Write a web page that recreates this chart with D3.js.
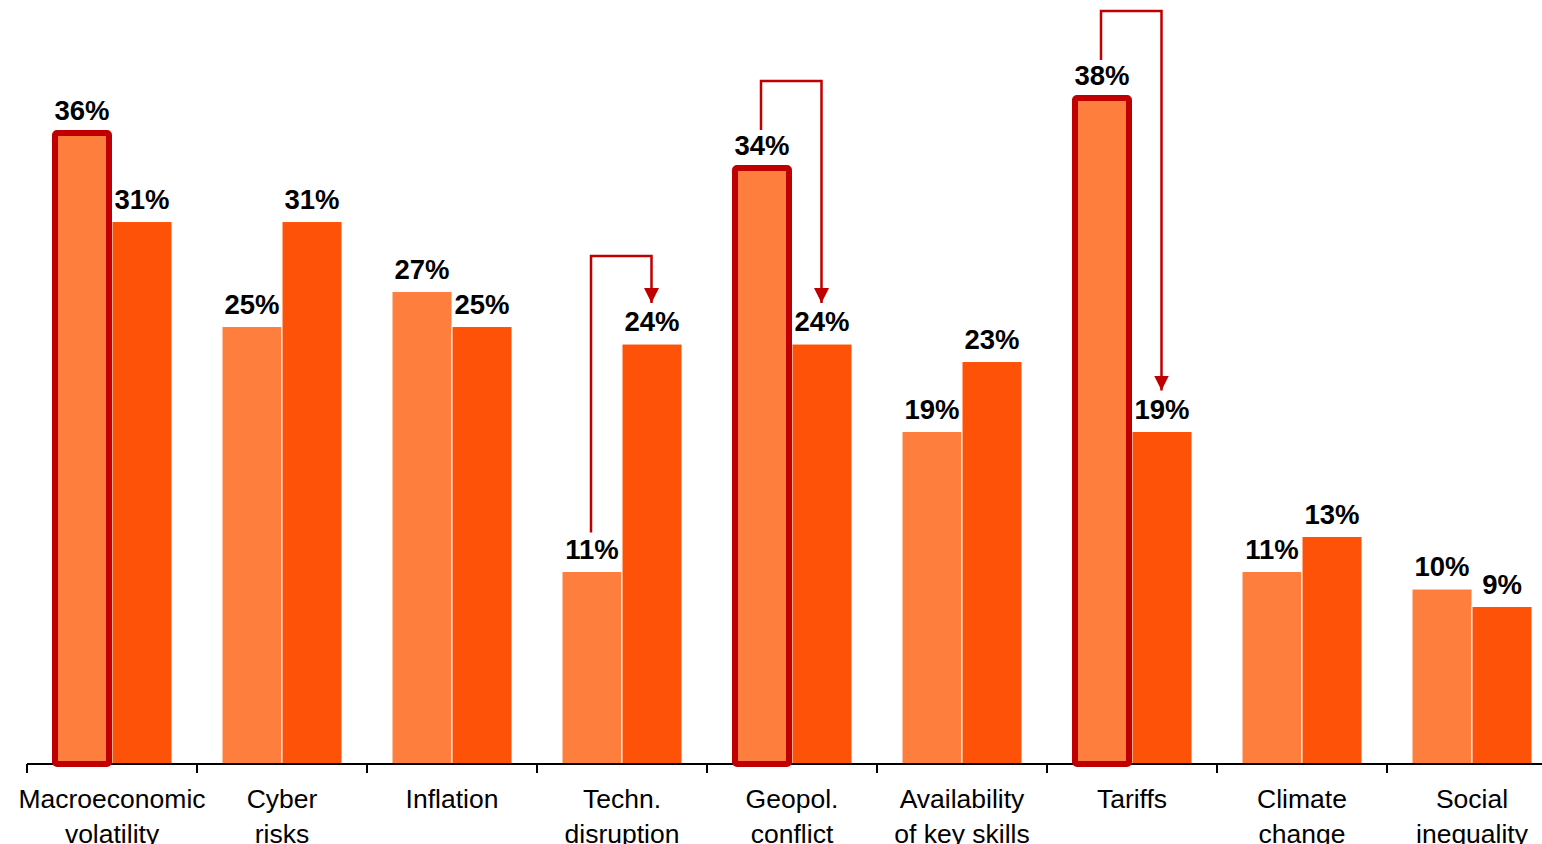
<!DOCTYPE html>
<html>
<head>
<meta charset="utf-8">
<script src="https://cdn.jsdelivr.net/npm/d3@7"></script>
<style>
  html, body { margin: 0; padding: 0; background: #fff; overflow: hidden; }
  svg { display: block; font-family: "Liberation Sans", Arial, sans-serif; }
</style>
</head>
<body>
<svg id="chart" width="1542" height="844"></svg>
<script>
// ---- data ----
const categories = ["Macroeconomic volatility", "Cyber risks", "Inflation", "Techn. disruption",
  "Geopol. conflict", "Availability of key skills", "Tariffs", "Climate change", "Social inequality"];
const categoryLines = [["Macroeconomic", "volatility"], ["Cyber", "risks"], ["Inflation"],
  ["Techn.", "disruption"], ["Geopol.", "conflict"], ["Availability", "of key skills"],
  ["Tariffs"], ["Climate", "change"], ["Social", "inequality"]];
const seriesA = [36, 25, 27, 11, 34, 19, 38, 11, 10];
const seriesB = [31, 31, 25, 24, 24, 23, 19, 13, 9];
const highlighted = ["Macroeconomic volatility", "Geopol. conflict", "Tariffs"];
const arrowed = ["Techn. disruption", "Geopol. conflict", "Tariffs"];

// ---- styles ----
const colorA = "#FD7E3D";
const colorB = "#FE5209";
const accent = "#C00000";

const svg = d3.select("#chart");
const baseline = 764;
const left = 27, bandW = 170;

const x = d3.scaleBand().domain(categories).range([left, left + bandW * categories.length]).padding(0);
const y = d3.scaleLinear().domain([0, 43.66]).range([baseline, 0]);
const sub = d3.scaleBand().domain(["A", "B"]).range([25, 145]).padding(0);

const rows = categories.map((c, i) => ({ c, i, a: seriesA[i], b: seriesB[i] }));

// arrowhead marker
svg.append("defs").append("marker")
  .attr("id", "ah").attr("viewBox", "0 0 15 15")
  .attr("refX", 7.5).attr("refY", 15)
  .attr("markerWidth", 15).attr("markerHeight", 15)
  .attr("markerUnits", "userSpaceOnUse").attr("orient", "0")
  .append("path").attr("d", "M0,0 L15,0 L7.5,15 Z").attr("fill", accent);

const g = svg.append("g");

// bars
const bars = [];
rows.forEach(r => {
  bars.push({ c: r.c, k: "A", v: r.a });
  bars.push({ c: r.c, k: "B", v: r.b });
});

g.selectAll("rect.bar").data(bars).join("rect")
  .attr("class", "bar")
  .attr("x", d => x(d.c) + sub(d.k))
  .attr("width", sub.bandwidth())
  .attr("y", d => y(d.v))
  .attr("height", d => baseline - y(d.v))
  .attr("fill", d => d.k === "A" ? colorA : colorB)
  .attr("stroke", "#fff").attr("stroke-width", 1);

// value labels
g.selectAll("text.val").data(bars).join("text")
  .attr("class", "val")
  .attr("x", d => x(d.c) + sub(d.k) + sub.bandwidth() / 2)
  .attr("y", d => y(d.v) - 13 - (d.k === "A" && highlighted.includes(d.c) ? 1 : 0))
  .attr("text-anchor", "middle")
  .attr("font-size", 27.5).attr("font-weight", "bold").attr("fill", "#000")
  .text(d => d.v + "%");

// axis
const axisG = svg.append("g").attr("transform", `translate(0,${baseline})`);
axisG.append("line").attr("x1", left).attr("x2", 1542).attr("y1", 0).attr("y2", 0)
  .attr("stroke", "#000").attr("stroke-width", 2);
axisG.selectAll("line.tick").data(categories).join("line")
  .attr("class", "tick")
  .attr("x1", d => x(d)).attr("x2", d => x(d))
  .attr("y1", 0).attr("y2", 9)
  .attr("stroke", "#000").attr("stroke-width", 2);

// category labels
const lab = axisG.selectAll("text.cat").data(rows).join("text")
  .attr("class", "cat")
  .attr("text-anchor", "middle")
  .attr("font-size", 26.5).attr("fill", "#000")
  .attr("transform", d => `translate(${x(d.c) + bandW / 2},44)`);
lab.selectAll("tspan").data(d => categoryLines[d.i]).join("tspan")
  .attr("x", 0).attr("dy", (d, j) => j === 0 ? 0 : 35).text(d => d);

// highlight outlines
svg.selectAll("rect.hl").data(rows.filter(r => highlighted.includes(r.c))).join("rect")
  .attr("class", "hl")
  .attr("x", d => x(d.c) + sub("A") + 3)
  .attr("width", sub.bandwidth() - 6)
  .attr("y", d => y(d.a) - 1)
  .attr("height", d => baseline - y(d.a) + 1)
  .attr("rx", 2).attr("ry", 2)
  .attr("fill", "none").attr("stroke", accent).attr("stroke-width", 6);

// arrows
svg.selectAll("path.arr").data(rows.filter(r => arrowed.includes(r.c))).join("path")
  .attr("class", "arr")
  .attr("d", d => {
    const xa = x(d.c) + sub("A") + sub.bandwidth() / 2 - 1;
    const xb = x(d.c) + sub("B") + sub.bandwidth() / 2 - 0.5;
    const top = y(Math.max(d.a, d.b)) - 88;
    return `M${xa},${y(d.a) - 39} V${top} H${xb} V${y(d.b) - 41}`;
  })
  .attr("fill", "none").attr("stroke", accent).attr("stroke-width", 2.5)
  .attr("marker-end", "url(#ah)");
</script>
</body>
</html>
